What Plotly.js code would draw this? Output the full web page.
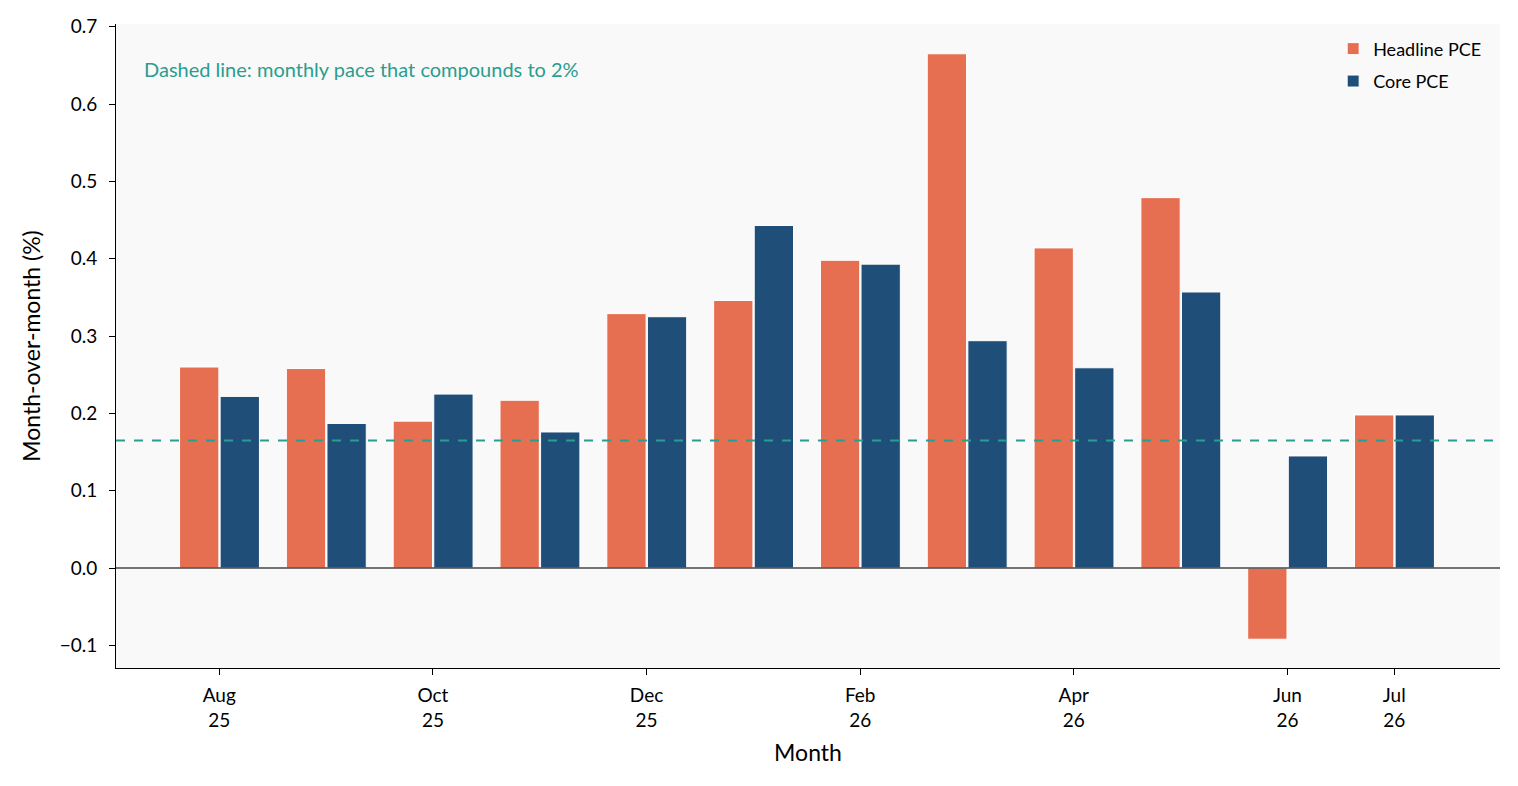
<!DOCTYPE html>
<html><head><meta charset="utf-8">
<script src="https://cdn.plot.ly/plotly-3.0.1.min.js"></script>
<style>html,body{margin:0;padding:0;background:#fff}#c{width:1518px;height:786px}</style>
</head><body><div id="c"></div>
<script>
const months = ["Aug 25","Sep 25","Oct 25","Nov 25","Dec 25","Jan 26","Feb 26","Mar 26","Apr 26","May 26","Jun 26","Jul 26"];
const headline = [0.260,0.258,0.190,0.217,0.329,0.346,0.398,0.665,0.414,0.479,-0.092,0.198];
const core = [0.222,0.187,0.225,0.176,0.325,0.443,0.393,0.294,0.259,0.357,0.145,0.198];
const tickIdx = [0,2,4,6,8,10,11];
const tickLabels = ["Aug<br>25","Oct<br>25","Dec<br>25","Feb<br>26","Apr<br>26","Jun<br>26","Jul<br>26"];
const targetPace = 0.165;

const xs = months.map((m,i)=>i);
const FONT = "Lato, 'Noto Sans', sans-serif";
const traces = [
  {type:'bar', name:'Headline PCE', legendgroup:'h', x:xs, y:headline, offset:-0.372, width:0.368,
   marker:{color:'#e76f51', line:{color:'#ffffff', width:1}}},
  {type:'bar', name:'Core PCE', legendgroup:'c', x:xs, y:core, offset:0.008, width:0.368,
   marker:{color:'#1f4e79', line:{color:'#ffffff', width:1}}}
];
const layout = {
  width:1518, height:786,
  margin:{l:116, r:18, t:24, b:118},
  paper_bgcolor:'#ffffff', plot_bgcolor:'#f9f9f9',
  font:{family:FONT, color:'#000', size:18},
  barmode:'overlay', showlegend:true,
  legend:{x:0.99, y:0.99, xanchor:'right', yanchor:'top', bgcolor:'rgba(0,0,0,0)', font:{size:18},
    traceorder:'grouped', tracegroupgap:6},
  xaxis:{range:[-0.967,11.99], tickmode:'array', tickvals:tickIdx, ticktext:tickLabels,
    showgrid:false, zeroline:false, showline:true, linecolor:'#000', linewidth:1,
    ticks:'outside', ticklen:6, tickcolor:'#000', tickfont:{size:19}, ticklabelstandoff:4,
    title:{text:'Month', font:{size:23}, standoff:15}},
  yaxis:{range:[-0.1292,0.7035], tickmode:'array', tickvals:[-0.1,0,0.1,0.2,0.3,0.4,0.5,0.6,0.7],
    ticktext:['\u22120.1','0.0','0.1','0.2','0.3','0.4','0.5','0.6','0.7'],
    showgrid:false, zeroline:false, showline:true, linecolor:'#000', linewidth:1,
    ticks:'outside', ticklen:6, tickcolor:'#000', tickfont:{size:19}, ticklabelstandoff:8,
    title:{text:'Month-over-month (%)', font:{size:23}, standoff:12}},
  shapes:[
    {type:'line', xref:'paper', x0:0, x1:1, yref:'y', y0:0, y1:0, line:{color:'#444', width:1.5}},
    {type:'line', xref:'paper', x0:0, x1:1, yref:'y', y0:targetPace, y1:targetPace, line:{color:'#2a9d8f', width:2, dash:'dash'}}
  ],
  annotations:[
    {xref:'paper', yref:'paper', x:0.0185, y:0.93, xanchor:'left', yanchor:'middle', showarrow:false,
     text:'Dashed line: monthly pace that compounds to 2%', font:{size:20, color:'#2a9d8f'}}
  ]
};
Plotly.newPlot('c', traces, layout, {displayModeBar:false, staticPlot:true});
</script></body></html>
